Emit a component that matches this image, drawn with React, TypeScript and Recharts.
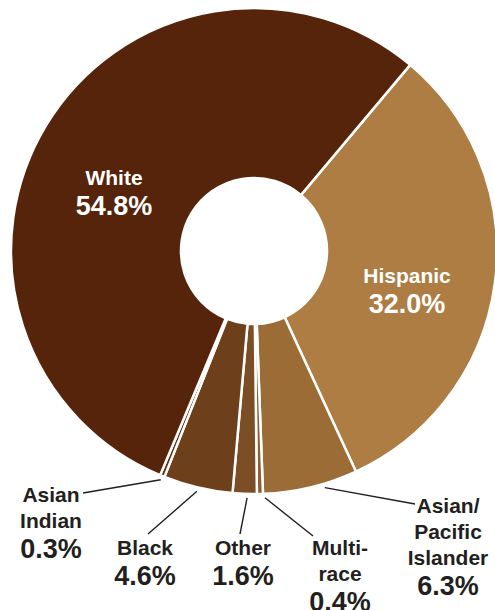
import React from 'react';
import { PieChart, Pie, Cell } from 'recharts';

const categories = ['Hispanic', 'Asian/Pacific Islander', 'Multi-race', 'Other', 'Black', 'Asian Indian', 'White'];
const shares = [32.0, 6.3, 0.4, 1.6, 4.6, 0.3, 54.8];
const labelLines = [['Hispanic'], ['Asian/', 'Pacific', 'Islander'], ['Multi-', 'race'], ['Other'], ['Black'], ['Asian', 'Indian'], ['White']];
const colors = ['#ad7d43', '#9c6c37', '#8d5e2f', '#7c4e26', '#6e3f1b', '#5e2c0f', '#55240a'];

// label layout (offsets from pie centre)
const labelLayout = [
  { inside: true, dx: 153, dy: 32 },
  { inside: false, dx: 194, dy: 262, end: [161, 253], nudge: 3.2 },
  { inside: false, dx: 86, dy: 304, end: [59, 285], nudge: 1.15 },
  { inside: false, dx: -11, dy: 304, end: [-14, 283], nudge: 0.6 },
  { inside: false, dx: -109, dy: 304, end: [-106, 283], nudge: 0 },
  { inside: false, dx: -203, dy: 251, end: [-171, 242], nudge: 0 },
  { inside: true, dx: -140, dy: -66 },
];

const data = categories.map((c, i) => ({ name: c, value: shares[i] }));

const RAD = Math.PI / 180;
const FONT = '"Liberation Sans", Arial, Helvetica, sans-serif';

const renderLabel = (props: any) => {
  const { cx, cy, midAngle, outerRadius, index } = props;
  const lay = labelLayout[index];
  const lines = labelLines[index];
  const fill = lay.inside ? '#ffffff' : '#231f20';
  const x = cx + lay.dx;
  const y0 = cy + lay.dy;
  const pctY = y0 + (lines.length - 1) * 26 + 30;
  let leader = null;
  if (!lay.inside && lay.end) {
    const a = (midAngle + (lay.nudge || 0)) * RAD;
    const r = outerRadius + 4;
    const sx = cx + r * Math.cos(-a);
    const sy = cy + r * Math.sin(-a);
    leader = (
      <line x1={sx} y1={sy} x2={cx + lay.end[0]} y2={cy + lay.end[1]} stroke="#231f20" strokeWidth={1.4} />
    );
  }
  return (
    <g key={`lbl-${index}`}>
      {leader}
      <text textAnchor="middle" fontFamily={FONT} fontWeight="bold" fill={fill}>
        {lines.map((l, k) => (
          <tspan key={k} x={x} y={y0 + k * 26} fontSize={21}>{l}</tspan>
        ))}
        <tspan x={x} y={pctY} fontSize={27}>{shares[index].toFixed(1)}%</tspan>
      </text>
    </g>
  );
};

export default function App() {
  return (
    <div style={{ position: 'absolute', left: 0, top: 0, width: 495, height: 610, background: '#fff' }}>
      <PieChart width={495} height={610} margin={{ top: 0, right: 0, bottom: 0, left: 0 }}>
        <Pie
          data={data}
          dataKey="value"
          nameKey="name"
          cx={254}
          cy={251}
          innerRadius={73}
          outerRadius={243}
          startAngle={50}
          endAngle={-310}
          stroke="#ffffff"
          strokeWidth={2.5}
          label={renderLabel}
          labelLine={false}
          isAnimationActive={false}
        >
          {data.map((d, i) => (
            <Cell key={d.name} fill={colors[i]} />
          ))}
        </Pie>
      </PieChart>
    </div>
  );
}
